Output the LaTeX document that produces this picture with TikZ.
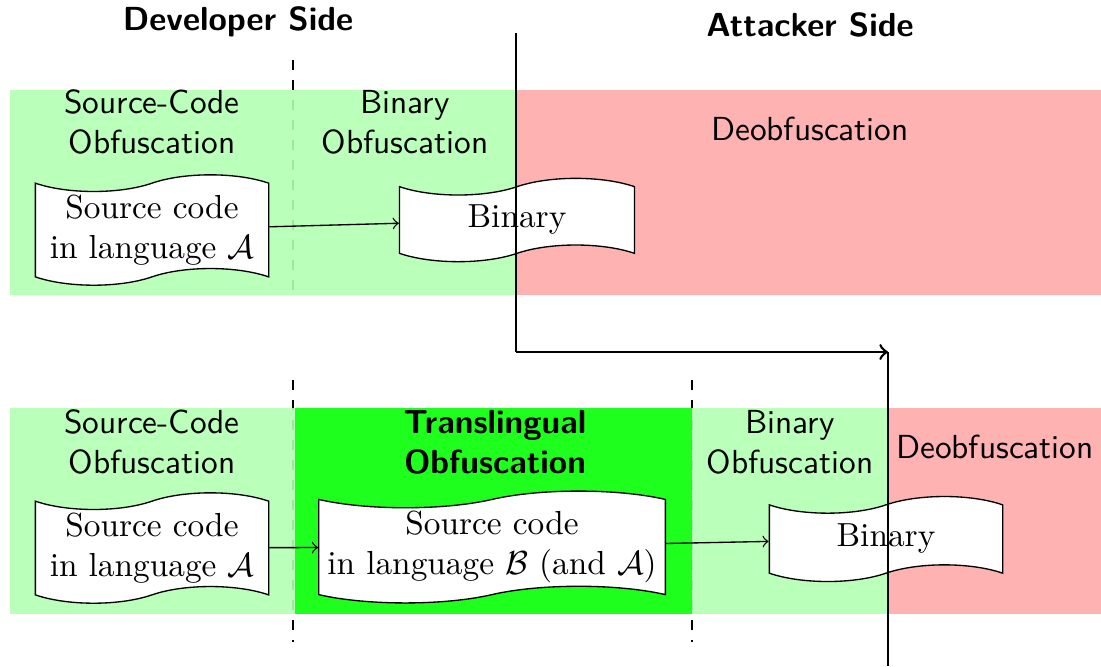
\documentclass[tikz,border=0pt]{standalone}
\usepackage{amssymb}
\usetikzlibrary{shapes,arrows}

\begin{document}
\begin{tikzpicture}[x=0.3pt,y=-0.3pt,
    doc/.style={draw,tape,fill=white,align=center,inner sep=1pt},
    phase/.style={align=center,font=\sffamily},
    side/.style={font=\sffamily\bfseries}]
        \useasboundingbox (0,0) rectangle (1101,666);

        % separators behind the areas
        \draw[dashed] (293,60) -- (293,295);
        \draw[dashed] (293,380) -- (293,642);
        \draw[dashed] (692,380) -- (692,642);

        % upper row: classic setting
        \fill[green!30,opacity=0.9] (10,90) rectangle (516,295);
        \fill[red!30] (516,90) rectangle (1101,295);
        % lower row: translingual setting
        \fill[green!30,opacity=0.9] (10,408) rectangle (295,614);
        \fill[green!90,opacity=0.98] (295,408) rectangle (692,614);
        \fill[green!30,opacity=0.9] (692,408) rectangle (888,614);
        \fill[red!30] (888,408) rectangle (1101,614);

        \node[side] (dev) at (238,22) {Developer Side};
        \node[side] (att) at (810,25) {Attacker Side};

        \node[phase] (srcobf) at (152,122) {Source-Code\\Obfuscation};
        \node[phase] (binobf) at (405,122) {Binary\\Obfuscation};
        \node[phase] (deobf) at (810,129) {Deobfuscation};
        \node[phase] (srcobf2) at (152,442) {Source-Code\\Obfuscation};
        \node[phase,font=\sffamily\bfseries] (transobf) at (495,442) {Translingual\\Obfuscation};
        \node[phase] (binobf2) at (790,442) {Binary\\Obfuscation};
        \node[phase] (deobf2) at (995,447) {Deobfuscation};

        \node[doc,minimum width=70pt,minimum height=31pt] (srcA) at (152,230) {Source code\\in language $\mathcal{A}$};
        \node[doc,minimum width=70.5pt,minimum height=25pt] (bin) at (517,220) {Binary};
        \node[doc,minimum width=70pt,minimum height=31pt] (srcA2) at (152,548) {Source code\\in language $\mathcal{A}$};
        \node[doc,minimum width=104pt,minimum height=33pt] (srcB) at (492,547) {Source code\\in language $\mathcal{B}$ (and $\mathcal{A}$)};
        \node[doc,minimum width=70pt,minimum height=25.5pt] (bin2) at (886,539) {Binary};

        \draw[->] (srcA) -- (bin);
        \draw[->] (srcA2) -- (srcB);
        \draw[->] (srcB) -- (bin2);

        % attacker border
        \coordinate (top) at (516,33);
        \coordinate (turn) at (516,352);
        \coordinate (hit) at (888,352);
        \coordinate (bottom) at (888,666);
        \draw (top) -- (turn);
        \draw[thick,->] (turn) -- (hit);
        \draw (hit) -- (bottom);
\end{tikzpicture}
\end{document}
